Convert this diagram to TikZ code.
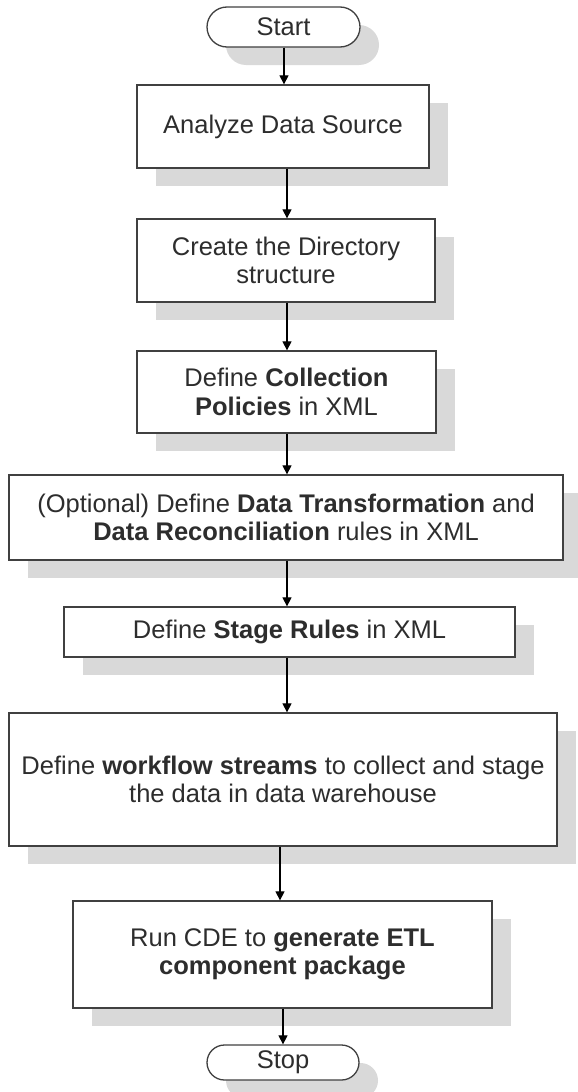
\documentclass[tikz,border=0pt]{standalone}
\usepackage{fontspec}
\setmainfont{Liberation Sans}
\usetikzlibrary{arrows.meta,shadows,shapes.misc}
\definecolor{shadowgray}{RGB}{217,217,217}
\definecolor{edgegray}{RGB}{64,64,64}
\definecolor{txtgray}{RGB}{45,45,45}
\tikzset{
  shadowed/.style={drop shadow={shadow xshift=19pt, shadow yshift=-18pt, fill=shadowgray, opacity=1}},
  procbox/.style={rectangle, draw=edgegray, line width=1.3pt, fill=white, inner sep=0pt,
    align=center, text=txtgray, font=\fontsize{25.5}{28.5}\selectfont, shadowed},
  termbox/.style={rounded rectangle, draw=edgegray, line width=1.3pt, fill=white, inner sep=0pt,
    align=center, text=txtgray, font=\fontsize{25.5}{28.5}\selectfont, shadowed},
  arr/.style={-{Triangle[width=9pt,length=9pt]}, line width=1.2pt, black}
}
\begin{document}
\begin{tikzpicture}[x=1pt,y=-1pt]
\useasboundingbox (0,0) rectangle (578,1092);
\node[termbox, minimum width=153pt, minimum height=40pt] (start) at (283.5,27) {Start};
\node[procbox, minimum width=292pt, minimum height=83pt] (b1) at (283,126.5) {Analyze Data Source};
\node[procbox, minimum width=298pt, minimum height=83pt] (b2) at (286,260.5) {Create the Directory\\structure};
\node[procbox, minimum width=299pt, minimum height=82pt] (b3) at (286.5,392) {Define \textbf{Collection}\\\textbf{Policies} in XML};
\node[procbox, minimum width=554pt, minimum height=85pt] (b4) at (286,517.5) {(Optional) Define \textbf{Data Transformation} and\\\textbf{Data Reconciliation} rules in XML};
\node[procbox, minimum width=451pt, minimum height=50pt] (b5) at (289.5,632) {Define \textbf{Stage Rules} in XML};
\node[procbox, minimum width=548pt, minimum height=133pt] (b6) at (283,779.5) {Define \textbf{workflow streams} to collect and stage\\the data in data warehouse};
\node[procbox, minimum width=419pt, minimum height=107pt] (b7) at (282.5,954.5) {Run CDE to \textbf{generate ETL}\\\textbf{component package}};
\node[termbox, minimum width=152pt, minimum height=35pt] (stop) at (283,1062.5) {Stop};

\draw[arr] ([xshift=0.5pt]start.south) -- ([xshift=0.5pt]start.south |- b1.north);
\draw[arr] ([xshift=4pt]b1.south) -- ([xshift=4pt]b1.south |- b2.north);
\draw[arr] ([xshift=1pt]b2.south) -- ([xshift=1pt]b2.south |- b3.north);
\draw[arr] ([xshift=0.5pt]b3.south) -- ([xshift=0.5pt]b3.south |- b4.north);
\draw[arr] ([xshift=1pt]b4.south) -- ([xshift=1pt]b4.south |- b5.north);
\draw[arr] ([xshift=-2.5pt]b5.south) -- ([xshift=-2.5pt]b5.south |- b6.north);
\draw[arr] ([xshift=-3pt]b6.south) -- ([xshift=-3pt]b6.south |- b7.north);
\draw[arr] ([xshift=0.5pt]b7.south) -- ([xshift=0.5pt]b7.south |- stop.north);
\end{tikzpicture}
\end{document}
